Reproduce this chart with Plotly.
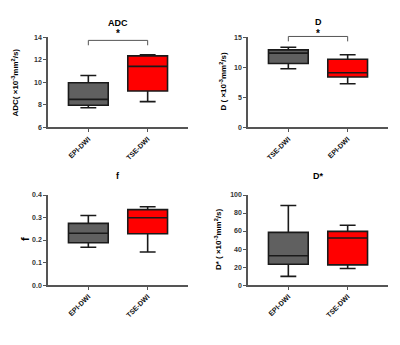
import plotly.graph_objects as go

# ---- data ----
cats_adc = ["EPI-DWI", "TSE-DWI"]
adc_low = [7.75, 8.3]
adc_q1 = [7.97, 9.24]
adc_med = [8.5, 11.43]
adc_q3 = [9.97, 12.36]
adc_high = [10.62, 12.45]

cats_d = ["TSE-DWI", "EPI-DWI"]
d_low = [9.78, 7.28]
d_q1 = [10.65, 8.42]
d_med = [12.39, 9.13]
d_q3 = [12.93, 11.36]
d_high = [13.37, 12.12]

cats_f = ["EPI-DWI", "TSE-DWI"]
f_low = [0.168, 0.147]
f_q1 = [0.188, 0.228]
f_med = [0.23, 0.299]
f_q3 = [0.274, 0.335]
f_high = [0.309, 0.348]

cats_ds = ["EPI-DWI", "TSE-DWI"]
ds_low = [9.7, 18.4]
ds_q1 = [23.1, 22.4]
ds_med = [32.5, 52.3]
ds_q3 = [58.5, 59.6]
ds_high = [88.4, 66.4]

box_colors = ["#606060", "#FF0000"]

FONT = "Liberation Sans, Arial, sans-serif"
OFF = 8  # page body margin
W, H = 384, 329
XR = [-0.68, 1.68]


def px_x(p):
    return (p - OFF) / W


def px_y(p):
    return 1 - (p - OFF) / H


fig = go.Figure()

panels = [
    (cats_adc, adc_low, adc_q1, adc_med, adc_q3, adc_high, "", [6, 14], 2, None),
    (cats_d, d_low, d_q1, d_med, d_q3, d_high, "2", [0, 15], 5, None),
    (cats_f, f_low, f_q1, f_med, f_q3, f_high, "3", [0, 0.4], 0.1, ".1f"),
    (cats_ds, ds_low, ds_q1, ds_med, ds_q3, ds_high, "4", [0, 100], 20, None),
]

# pixel domains in the reference picture
xdoms = [(48, 188), (248, 388), (48, 188), (248, 388)]
ydoms = [(34, 126), (34, 126), (195, 287), (195, 287)]

for i, (cats, lo, q1, med, q3, hi, ax, yr, dt, tf) in enumerate(panels):
    for j in range(2):
        fig.add_trace(go.Box(
            x=[cats[j]], q1=[q1[j]], median=[med[j]], q3=[q3[j]],
            lowerfence=[lo[j]], upperfence=[hi[j]],
            fillcolor=box_colors[j], line=dict(color="#1a1a1a", width=1.6),
            width=0.67, whiskerwidth=0.4, boxpoints=False, showlegend=False,
            xaxis="x" + ax, yaxis="y" + ax, hoverinfo="skip",
        ))
    xd = xdoms[i]
    yd = ydoms[i]
    xa = dict(
        domain=[px_x(xd[0]), px_x(xd[1])], range=XR, type="category",
        categoryorder="array", categoryarray=cats,
        showline=True, linecolor="#555555", linewidth=1.5,
        ticks="outside", ticklen=3, tickwidth=1, tickcolor="#555555",
        tickangle=-45,
        tickfont=dict(family=FONT, size=7, color="#111111", weight="bold"),
        showgrid=False, zeroline=False, anchor="y" + ax, fixedrange=True,
    )
    ya = dict(
        domain=[px_y(yd[1]), px_y(yd[0])], range=yr, dtick=dt,
        showline=True, linecolor="#555555", linewidth=1.5,
        ticks="outside", ticklen=3, tickwidth=1, tickcolor="#555555",
        tickfont=dict(family=FONT, size=7, color="#333333", weight="bold"),
        showgrid=False, zeroline=False, anchor="x" + ax, fixedrange=True,
    )
    if tf:
        ya["tickformat"] = tf
    fig.layout["xaxis" + ax] = xa
    fig.layout["yaxis" + ax] = ya

titles = ["ADC", "D", "f", "D*"]
title_px = [19, 18, 176, 176]
annots = []
for i, t in enumerate(titles):
    ax = ["", "2", "3", "4"][i]
    annots.append(dict(
        text="<b>%s</b>" % t, x=0.5, xref="x" + ax, y=px_y(title_px[i]), yref="paper",
        showarrow=False, font=dict(family=FONT, size=9, color="#000000"),
        xanchor="center", yanchor="middle",
    ))

# significance stars and brackets (top panels)
for ax in ["", "2"]:
    annots.append(dict(
        text="<b>*</b>", x=0.5, xref="x" + ax, y=px_y(30), yref="paper",
        showarrow=False, font=dict(family=FONT, size=10, color="#000000"),
        xanchor="center", yanchor="middle",
    ))

bracket_px = {"": (37, 42), "2": (33, 38)}
shapes = []
for ax, (ytop, ybot) in bracket_px.items():
    f0 = (0 - XR[0]) / (XR[1] - XR[0])
    f1 = (1 - XR[0]) / (XR[1] - XR[0])
    yt = (126 - ytop) / 92
    yb = (126 - ybot) / 92
    shapes.append(dict(
        type="path", xref="x" + ax + " domain", yref="y" + ax + " domain",
        path="M %f %f L %f %f L %f %f L %f %f" % (f0, yb, f0, yt, f1, yt, f1, yb),
        line=dict(color="#555555", width=1),
    ))

# y-axis titles
ytitles = [
    ("<b>ADC( ×10<sup>-3</sup>mm<sup>2</sup>/s)</b>", 15, 80, 8),
    ("<b>D ( ×10<sup>-3</sup>mm<sup>2</sup>/s)</b>", 223, 79, 8),
    ("<b>f</b>", 25, 240, 11),
    ("<b>D* ( ×10<sup>-3</sup>mm<sup>2</sup>/s)</b>", 218, 240, 8),
]
for txt, px, py, sz in ytitles:
    annots.append(dict(
        text=txt, x=px_x(px), y=px_y(py), xref="paper", yref="paper",
        textangle=-90, showarrow=False, xanchor="center", yanchor="middle",
        font=dict(family=FONT, size=sz, color="#000000"),
    ))

fig.update_layout(
    width=W, height=H, margin=dict(l=0, r=0, t=0, b=0),
    paper_bgcolor="white", plot_bgcolor="white",
    boxmode="overlay", annotations=annots, shapes=shapes,
    font=dict(family=FONT),
)

fig.write_html("out.html")
